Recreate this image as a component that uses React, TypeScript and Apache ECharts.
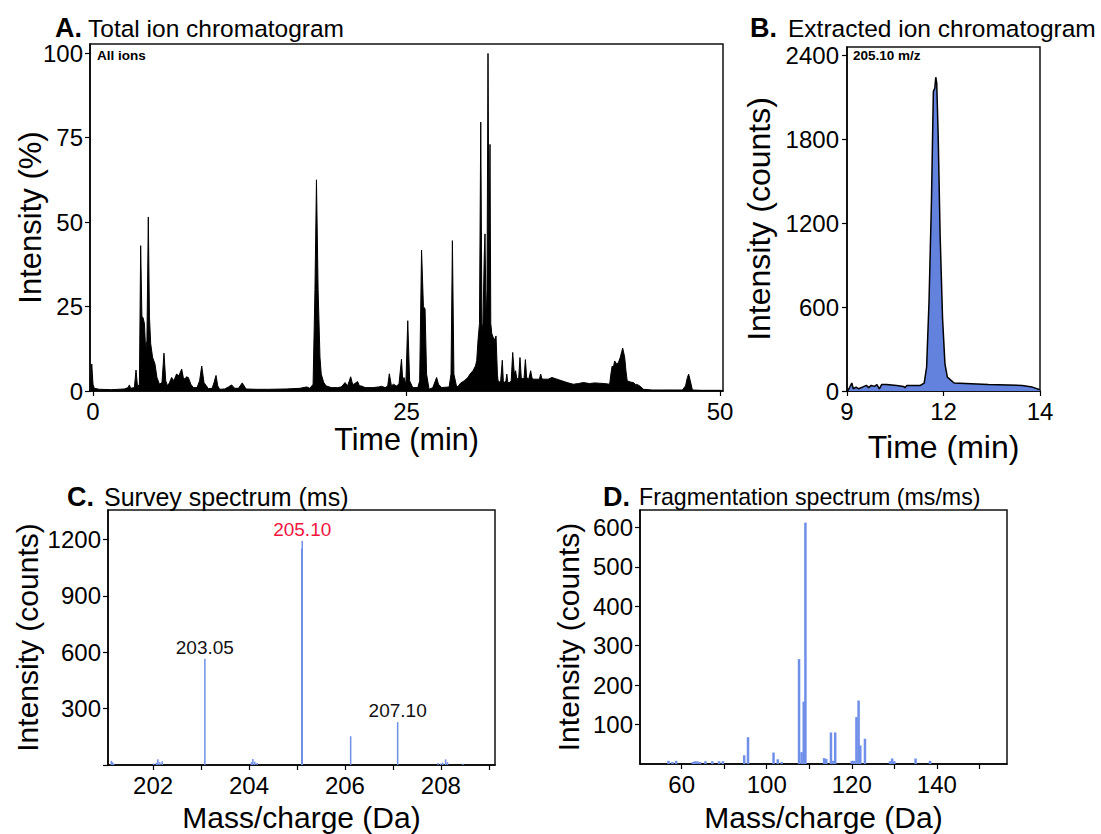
import React, { useEffect, useRef } from "react";
import * as echarts from "echarts";

const FONT = "'Liberation Sans', Arial, Helvetica, sans-serif";

// ---------- Panel A: total ion chromatogram (time min, intensity %) ----------
const ticPoints: [number, number][] = [
  [-0.2, 1], [-0.1, 8], [0.0, 2], [0.1, 0.8], [0.5, 0.5], [1.5, 0.4], [2.5, 0.6], [2.8, 1.0], [2.9, 1.8], [3.0, 0.8],
  [3.3, 1.0], [3.43, 6.2], [3.55, 1.2], [3.7, 2], [3.8, 43], [3.9, 22], [3.98, 21.8], [4.1, 20], [4.2, 12], [4.3, 15],
  [4.41, 51.5], [4.5, 22], [4.6, 14], [4.75, 10], [4.94, 8], [5.1, 4], [5.3, 2], [5.5, 2.5], [5.66, 11.2], [5.8, 3],
  [5.95, 1.5], [6.1, 2.5], [6.27, 4], [6.45, 3], [6.66, 5], [6.85, 4.5], [7.07, 6.5], [7.2, 4], [7.33, 3.5], [7.45, 4.2],
  [7.6, 4], [7.8, 2], [8.0, 1], [8.3, 1], [8.5, 3], [8.67, 7.4], [8.85, 2.5], [9.2, 0.7], [9.5, 0.8], [9.65, 2.5],
  [9.81, 4.6], [9.95, 1.5], [10.1, 0.5], [10.5, 0.6], [10.8, 1.2], [11.05, 1.8], [11.3, 0.8], [11.6, 0.8], [11.9, 2.4], [12.2, 0.6],
  [13, 0.5], [14, 0.5], [15.4, 0.6], [16.5, 0.8], [17.04, 1.2], [17.3, 0.8], [17.55, 2], [17.7, 30], [17.82, 62.5], [17.95, 30],
  [18.1, 10], [18.2, 5], [18.4, 2.5], [18.6, 1.5], [19.0, 1], [19.5, 1], [19.8, 1.2], [20.1, 2.5], [20.3, 1.5], [20.55, 4.2],
  [20.7, 2], [20.8, 2], [21.1, 2.8], [21.25, 1.5], [21.4, 1.5], [21.7, 1], [22.3, 1], [22.8, 1.2], [23.0, 1.4], [23.3, 1],
  [23.5, 1.5], [23.63, 5.1], [23.8, 1.5], [23.95, 2], [24.2, 1.5], [24.4, 2], [24.6, 9.4], [24.7, 3], [24.8, 4], [24.95, 2],
  [25.1, 20.8], [25.25, 3], [25.5, 1], [25.9, 1], [26.05, 3], [26.2, 41.7], [26.35, 25], [26.48, 24.3], [26.6, 5], [26.8, 0.5],
  [27.1, 1], [27.3, 3], [27.4, 4], [27.55, 2], [27.8, 1], [28.4, 1.2], [28.55, 5], [28.66, 44.5], [28.78, 5], [29.0, 1.2],
  [29.15, 1.5], [29.3, 2.3], [29.6, 3], [29.9, 4], [30.06, 5], [30.3, 6], [30.5, 7.4], [30.6, 9], [30.7, 14.8], [30.82, 20],
  [30.92, 79.6], [31.02, 18], [31.1, 20], [31.2, 40], [31.26, 46.5], [31.35, 20], [31.42, 30], [31.5, 99.9], [31.58, 40], [31.66, 73],
  [31.72, 20], [31.8, 17], [31.9, 16], [32.0, 15], [32.14, 16.3], [32.25, 5], [32.3, 3], [32.5, 2.5], [32.64, 9.1], [32.72, 3],
  [32.8, 2.5], [32.93, 3], [33.0, 5], [33.08, 2.5], [33.2, 2.5], [33.35, 3], [33.47, 11.4], [33.6, 5], [33.7, 6], [33.8, 3.5],
  [33.95, 4], [34.05, 9.9], [34.15, 4], [34.3, 3.5], [34.38, 4], [34.48, 9.3], [34.58, 4], [34.75, 3.5], [34.9, 6], [35.0, 4],
  [35.1, 3.5], [35.4, 3.5], [35.6, 3.5], [35.7, 5], [35.8, 3.6], [35.95, 3.5], [36.3, 3.5], [36.6, 4], [37.0, 3.5], [37.4, 3],
  [37.8, 2.5], [38.3, 2], [38.7, 2.2], [39.1, 2.5], [39.6, 2.2], [40.0, 2.4], [40.4, 2.3], [40.8, 2.2], [41.2, 2], [41.3, 5],
  [41.4, 7.4], [41.5, 7], [41.6, 8.9], [41.75, 8], [41.9, 8.4], [42.05, 10], [42.24, 12.7], [42.4, 10], [42.5, 6], [42.6, 3],
  [42.9, 2.6], [43.1, 2.5], [43.25, 2], [43.3, 0.8], [43.35, 2], [43.6, 1.5], [43.9, 0.5], [44.6, 0.3], [45.5, 0.3], [46.5, 0.3],
  [47.0, 0.3], [47.25, 1.5], [47.4, 4], [47.5, 5], [47.6, 3.5], [47.8, 0.3], [48.5, 0.2], [49.5, 0.2], [50.1, 0.2],
];
const ticXTicks = [0, 25, 50];
const ticYTicks = [0, 25, 50, 75, 100];

// ---------- Panel B: extracted ion chromatogram (time min, counts) ----------
const eicPoints: [number, number][] = [
  [10.01, 0], [10.04, 16], [10.1, 57], [10.13, 16], [10.19, 28], [10.24, 16], [10.32, 28], [10.4, 40], [10.45, 24], [10.5, 40],
  [10.57, 33], [10.62, 45], [10.67, 16], [10.72, 47], [10.82, 47], [11.03, 40], [11.17, 33], [11.2, 24], [11.24, 40], [11.52, 40],
  [11.6, 57], [11.65, 170], [11.7, 642], [11.75, 1351], [11.79, 2142], [11.82, 2166], [11.84, 2244], [11.86, 2201], [11.89, 1823], [11.93, 1115],
  [11.98, 524], [12.03, 194], [12.08, 99], [12.22, 57], [12.93, 47], [13.63, 40], [13.84, 28], [14.0, 9],
];
const eicXTickValues = [10, 12, 14];
const eicXTickLabels = ["9", "12", "14"];
const eicYTicks = [0, 600, 1200, 1800, 2400];

// ---------- Panel C: survey spectrum (m/z, counts) ----------
const msMz = [
  201.13, 201.15, 201.18, 202.01, 202.07, 202.1, 202.14, 202.19, 203.08, 204.05, 204.08, 204.12, 204.17,
  205.1, 205.11, 206.12, 207.1, 207.94, 208.0, 208.04, 208.1, 208.14, 208.46,
];
const msIntensity = [
  22, 15, 8, 8, 12, 30, 15, 20, 565, 15, 32, 18, 10,
  1150, 1191, 153, 228, 10, 8, 12, 30, 15, 6,
];
const msPeakLabels: { mz: number; text: string; color: string }[] = [
  { mz: 203.08, text: "203.05", color: "#111111" },
  { mz: 205.11, text: "205.10", color: "#f2163f" },
  { mz: 207.1, text: "207.10", color: "#111111" },
];
const msXTicks = [202, 203, 204, 205, 206, 207, 208, 209];
const msXLabels = [202, 204, 206, 208];
const msYTicks = [0, 300, 600, 900, 1200];
const msYLabels = [300, 600, 900, 1200];

// ---------- Panel D: fragmentation spectrum (m/z, counts) ----------
const msmsMz = [
  76.9, 77.8, 78.7, 82.6, 83.1, 83.7, 84.3, 85.6, 87.2, 88.8, 89.7, 94.7, 95.6, 101.6, 102.6, 103.5,
  107.6, 108.2, 108.7, 109.1, 113.5, 114.0, 115.1, 115.6, 116.1, 120.0, 120.5, 121.1, 121.6, 122.0, 123.1,
  129.0, 129.5, 130.0, 135.0, 138.4,
];
const msmsIntensity = [
  8, 5, 8, 5, 7, 7, 5, 7, 7, 7, 7, 22, 68, 29, 12, 5,
  266, 30, 158, 612, 15, 13, 80, 8, 80, 8, 8, 119, 161, 47, 64,
  7, 14, 7, 14, 8,
];
const msmsXTicks = [80, 90, 100, 110, 120, 130, 140, 150];
const msmsXLabelValues = [80, 100, 120, 140];
const msmsXLabelTexts = ["60", "100", "120", "140"];
const msmsYTicks = [100, 200, 300, 400, 500, 600];

// ---------- Panel titles ----------
const panelLetters = ["A.", "B.", "C.", "D."];
const panelTitles = [
  "Total ion chromatogram",
  "Extracted ion chromatogram",
  "Survey spectrum (ms)",
  "Fragmentation spectrum (ms/ms)",
];

const BLUE_FILL = "#6282dd";
const BAR_BLUE = "#6f8fe9";

export default function App() {
  const ref = useRef<HTMLDivElement>(null);

  useEffect(() => {
    if (!ref.current) return;
    const chart = echarts.init(ref.current, undefined, { renderer: "svg" });

    const tickLabel = {
      color: "#000", fontSize: 24, lineHeight: 24, fontFamily: FONT,
      formatter: (v: number) => String(v),
    };
    const axisLine = { show: true, onZero: false, lineStyle: { color: "#000", width: 1.5 } };
    const axisTickBase = { show: true, inside: false, length: 5, lineStyle: { color: "#000", width: 1.2 } };
    const nameStyle = (size: number) => ({ color: "#000", fontSize: size, lineHeight: size, fontFamily: FONT });
    const nameCommon = { nameLocation: "middle", nameMoveOverlap: false };

    const gridBase = {
      show: true, borderColor: "#111", borderWidth: 1.5, backgroundColor: "transparent",
      containLabel: false, outerBoundsMode: "none",
    };

    const msData = msMz.map((m, i) => {
      const lab = msPeakLabels.find((p) => p.mz === m);
      const item: any = { value: [m, msIntensity[i]] };
      if (lab) {
        item.label = {
          show: true, position: "top", distance: 2, formatter: lab.text,
          color: lab.color, fontSize: 19, fontFamily: FONT,
        };
      }
      return item;
    });

    // title layout: [letterX, titleX, centerY, titleSize]
    const titleLayout: [number, number, number, number][] = [
      [55, 88, 28, 24.5],
      [750, 788, 28, 24.5],
      [67, 104, 497, 25],
      [603, 639, 497, 23.2],
    ];
    const titleGraphics: any[] = [];
    titleLayout.forEach(([lx, tx, cy, ts], i) => {
      titleGraphics.push({
        type: "text", x: lx, y: cy - 0.5,
        style: {
          text: panelLetters[i], fontSize: 27, lineHeight: 25, fontWeight: "bold", fontFamily: FONT, fill: "#000",
          align: "left", verticalAlign: "middle",
        },
      });
      titleGraphics.push({
        type: "text", x: tx, y: cy,
        style: {
          text: panelTitles[i], fontSize: ts, lineHeight: ts, fontFamily: FONT, fill: "#000",
          align: "left", verticalAlign: "middle",
        },
      });
    });

    const option: any = {
      animation: false,
      textStyle: { fontFamily: FONT },
      grid: [
        { ...gridBase, left: 90, top: 44, width: 633, height: 347 },
        { ...gridBase, left: 847, top: 47, width: 193, height: 344 },
        { ...gridBase, left: 108, top: 510, width: 387, height: 255 },
        { ...gridBase, left: 640, top: 510, width: 367, height: 254 },
      ],
      xAxis: [
        {
          gridIndex: 0, type: "value", min: -0.24, max: 50.24,
          axisLine, splitLine: { show: false },
          axisTick: { ...axisTickBase, customValues: ticXTicks },
          axisLabel: { ...tickLabel, customValues: ticXTicks, margin: 8 },
          name: "Time (min)", ...nameCommon, nameGap: 33, nameTextStyle: nameStyle(30.5),
        },
        {
          gridIndex: 1, type: "value", min: 10, max: 14,
          axisLine, splitLine: { show: false },
          axisTick: { ...axisTickBase, customValues: eicXTickValues },
          axisLabel: {
            ...tickLabel, customValues: eicXTickValues, margin: 8,
            formatter: (v: number) => eicXTickLabels[eicXTickValues.indexOf(v)] ?? "",
          },
          name: "Time (min)", ...nameCommon, nameGap: 40, nameTextStyle: nameStyle(32),
        },
        {
          gridIndex: 2, type: "value", min: 201.06, max: 209.13,
          axisLine, splitLine: { show: false },
          axisTick: { ...axisTickBase, customValues: msXTicks },
          axisLabel: { ...tickLabel, customValues: msXLabels, margin: 8 },
          name: "Mass/charge (Da)", ...nameCommon, nameGap: 37, nameTextStyle: nameStyle(30),
        },
        {
          gridIndex: 3, type: "value", min: 70.2, max: 156.5,
          axisLine, splitLine: { show: false },
          axisTick: { ...axisTickBase, customValues: msmsXTicks },
          axisLabel: {
            ...tickLabel, customValues: msmsXLabelValues, margin: 8,
            formatter: (v: number) => msmsXLabelTexts[msmsXLabelValues.indexOf(v)] ?? "",
          },
          name: "Mass/charge (Da)", ...nameCommon, nameGap: 38, nameTextStyle: nameStyle(30),
        },
      ],
      yAxis: [
        {
          gridIndex: 0, type: "value", min: 0, max: 102.7,
          axisLine, splitLine: { show: false },
          axisTick: { ...axisTickBase, customValues: ticYTicks },
          axisLabel: { ...tickLabel, customValues: ticYTicks, margin: 7 },
          name: "Intensity (%)", ...nameCommon, nameGap: 44, nameTextStyle: nameStyle(31),
        },
        {
          gridIndex: 1, type: "value", min: 0, max: 2460,
          axisLine, splitLine: { show: false },
          axisTick: { ...axisTickBase, customValues: eicYTicks },
          axisLabel: { ...tickLabel, customValues: eicYTicks, margin: 8 },
          name: "Intensity (counts)", ...nameCommon, nameGap: 72, nameTextStyle: nameStyle(32),
        },
        {
          gridIndex: 2, type: "value", min: 0, max: 1356,
          axisLine, splitLine: { show: false },
          axisTick: { ...axisTickBase, customValues: msYTicks },
          axisLabel: { ...tickLabel, customValues: msYLabels, margin: 7 },
          name: "Intensity (counts)", ...nameCommon, nameGap: 66, nameTextStyle: nameStyle(30),
        },
        {
          gridIndex: 3, type: "value", min: 0, max: 644,
          axisLine, splitLine: { show: false },
          axisTick: { ...axisTickBase, customValues: msmsYTicks },
          axisLabel: { ...tickLabel, customValues: msmsYTicks, margin: 7 },
          name: "Intensity (counts)", ...nameCommon, nameGap: 57, nameTextStyle: nameStyle(30),
        },
      ],
      series: [
        {
          type: "line", xAxisIndex: 0, yAxisIndex: 0, data: ticPoints, symbol: "none",
          lineStyle: { color: "#000", width: 1 }, areaStyle: { color: "#000", opacity: 1 },
        },
        {
          type: "line", xAxisIndex: 1, yAxisIndex: 1, data: eicPoints, symbol: "none",
          lineStyle: { color: "#000", width: 1.5 }, areaStyle: { color: BLUE_FILL, opacity: 1 },
        },
        {
          type: "bar", xAxisIndex: 2, yAxisIndex: 2, data: msData, barWidth: 1.5,
          itemStyle: { color: BAR_BLUE },
        },
        {
          type: "bar", xAxisIndex: 3, yAxisIndex: 3,
          data: msmsMz.map((m, i) => [m, msmsIntensity[i]]), barWidth: 2.5,
          itemStyle: { color: BAR_BLUE },
        },
      ],
      graphic: [
        ...titleGraphics,
        {
          type: "text", x: 97, y: 55.5,
          style: {
            text: "All ions", fontSize: 13.5, fontWeight: "bold", fontFamily: FONT, fill: "#000",
            align: "left", verticalAlign: "middle",
          },
        },
        {
          type: "text", x: 853, y: 55.5,
          style: {
            text: "205.10 m/z", fontSize: 13.5, fontWeight: "bold", fontFamily: FONT, fill: "#000",
            align: "left", verticalAlign: "middle",
          },
        },
      ],
    };

    chart.setOption(option);
    return () => chart.dispose();
  }, []);

  return (
    <div
      ref={ref}
      style={{ position: "absolute", left: 0, top: 0, width: 1101, height: 834, background: "#fff" }}
    />
  );
}
